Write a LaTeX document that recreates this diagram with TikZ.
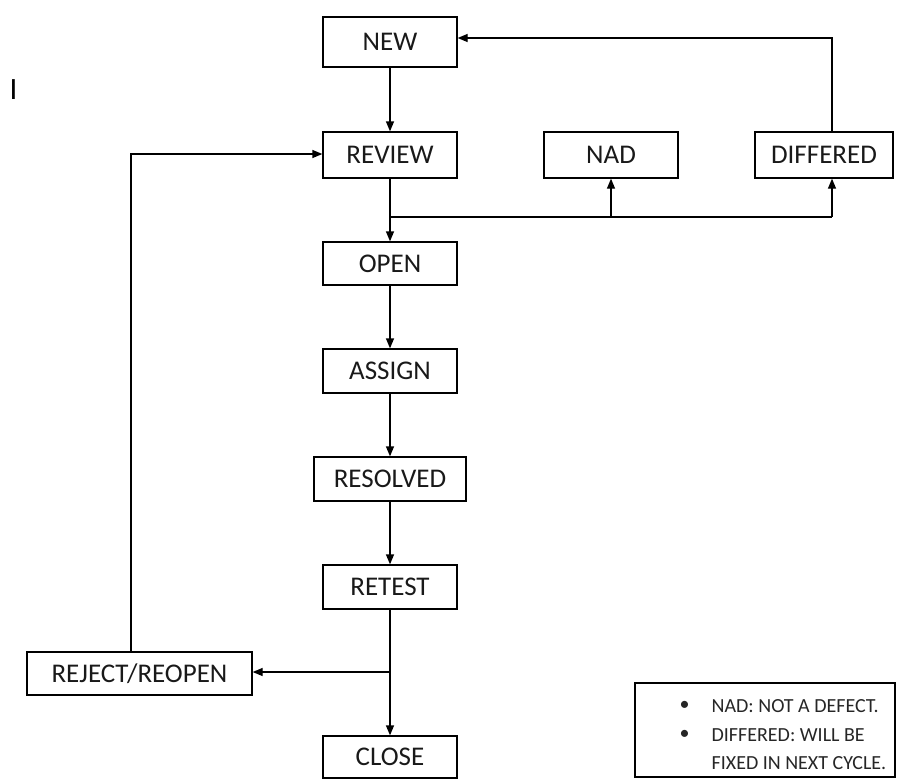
\documentclass[tikz,border=0pt]{standalone}
\usepackage{fontspec}
\setmainfont{Carlito}
\usetikzlibrary{arrows.meta}

\begin{document}
\begin{tikzpicture}[x=1pt,y=-1pt,line width=1.3pt,
    >={Triangle[length=10pt,width=8pt]}]

        \useasboundingbox (0,0) rectangle (897,780);

        \begin{scope}[every node/.style={draw, rectangle, inner sep=0pt,
            minimum width=134pt, minimum height=44pt, text=black!90,
            font=\fontsize{27}{32}\selectfont}]
          \node (new)      at (390,42)    [minimum height=50pt] {NEW};
          \node (review)   at (390,155)   [minimum height=46pt] {REVIEW};
          \node (nad)      at (611,155)   [minimum height=46pt] {NAD};
          \node (diff)     at (824,155)   [minimum width=138pt, minimum height=46pt] {DIFFERED};
          \node (open)     at (390,263.5) [minimum height=43pt] {OPEN};
          \node (assign)   at (390,371)   {ASSIGN};
          \node (resolved) at (390,479)   [minimum width=152pt] {RESOLVED};
          \node (retest)   at (390,587)   {RETEST};
          \node (reject)   at (139.5,673.5) [minimum width=225pt, minimum height=43pt] {REJECT/REOPEN};
          \node (close)    at (390,757)   [minimum height=42pt] {CLOSE};
          \node (legend)   at (765,730)   [minimum width=260pt, minimum height=94pt] {};
        \end{scope}

        % junctions and corners
        \coordinate (j1) at (390,217);
        \coordinate (jd) at (832,217);
        \coordinate (j2) at (390,672);
        \coordinate (top) at (832,38);
        \coordinate (back) at (131,154);

        % main chain
        \path[->] (new)      edge (review);
        \path[->] (review)   edge (open);
        \path[->] (open)     edge (assign);
        \path[->] (assign)   edge (resolved);
        \path[->] (resolved) edge (retest);
        \path[->] (retest)   edge (close);

        % review branches
        \draw (j1) -- (jd);
        \draw[->] (j1 -| nad) -- (nad);
        \draw[->] (jd) -- (jd |- diff.south);
        \draw[->] (jd |- diff.north) -- (top) -- (new.east |- top);

        % reject loop
        \draw[->] (j2) -- (reject.east |- j2);
        \draw[->] (back |- reject.north) -- (back) -- (review.west |- back);

        % legend text
        \begin{scope}[every node/.style={anchor=west, inner sep=0pt, text=black!85,
            font=\fontsize{20}{24}\selectfont}]
          \node (b1) at (679,706) {•};
          \node (b2) at (679,735) {•};
          \node (l1) at (711,706) {NAD: NOT A DEFECT.};
          \node (l2) at (711,735) {DIFFERED: WILL BE};
          \node (l3) at (711,763) {FIXED IN NEXT CYCLE.};
        \end{scope}

        % stray mark
        \node (mark) at (13.5,89.5) [inner sep=0pt, font=\fontsize{31}{36}\selectfont] {I};

      \end{tikzpicture}
\end{document}
